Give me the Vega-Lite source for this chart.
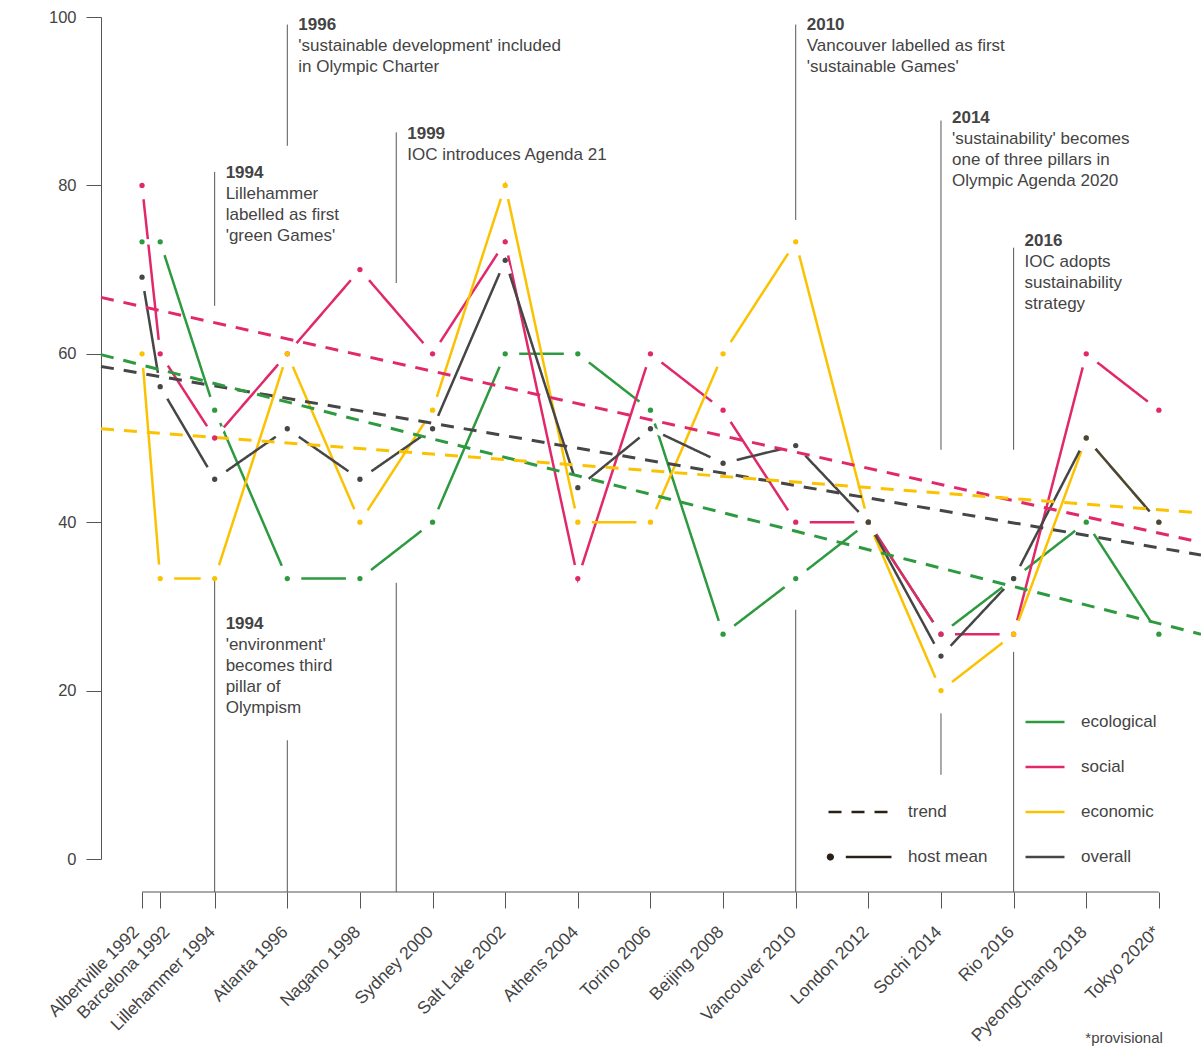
{
  "$schema": "https://vega.github.io/schema/vega-lite/v6.json",
  "width": 1100,
  "height": 842,
  "autosize": {"type": "none"},
  "padding": {"left": 101, "top": 17, "right": 0, "bottom": 189},
  "background": "white",
  "config": {
    "font": "Liberation Sans",
    "view": {"stroke": null},
    "axis": {"grid": false, "labelFont": "Liberation Sans", "titleFont": "Liberation Sans"},
    "legend": {"labelFont": "Liberation Sans"}
  },
  "datasets": {
    "scores": [
      {"host": "Albertville 1992", "x": 1992, "ecological": 73.3, "social": 80, "economic": 60, "overall": 69.1},
      {"host": "Barcelona 1992", "x": 1992.5, "ecological": 73.3, "social": 60, "economic": 33.3, "overall": 56.1},
      {"host": "Lillehammer 1994", "x": 1994, "ecological": 53.3, "social": 50, "economic": 33.3, "overall": 45.1},
      {"host": "Atlanta 1996", "x": 1996, "ecological": 33.3, "social": 60, "economic": 60, "overall": 51.1},
      {"host": "Nagano 1998", "x": 1998, "ecological": 33.3, "social": 70, "economic": 40, "overall": 45.1},
      {"host": "Sydney 2000", "x": 2000, "ecological": 40, "social": 60, "economic": 53.3, "overall": 51.1},
      {"host": "Salt Lake 2002", "x": 2002, "ecological": 60, "social": 73.3, "economic": 80, "overall": 71.1},
      {"host": "Athens 2004", "x": 2004, "ecological": 60, "social": 33.3, "economic": 40, "overall": 44.1},
      {"host": "Torino 2006", "x": 2006, "ecological": 53.3, "social": 60, "economic": 40, "overall": 51.1},
      {"host": "Beijing 2008", "x": 2008, "ecological": 26.7, "social": 53.3, "economic": 60, "overall": 47},
      {"host": "Vancouver 2010", "x": 2010, "ecological": 33.3, "social": 40, "economic": 73.3, "overall": 49.1},
      {"host": "London 2012", "x": 2012, "ecological": 40, "social": 40, "economic": 40, "overall": 40},
      {"host": "Sochi 2014", "x": 2014, "ecological": 26.7, "social": 26.7, "economic": 20, "overall": 24.1},
      {"host": "Rio 2016", "x": 2016, "ecological": 33.3, "social": 26.7, "economic": 26.7, "overall": 33.3},
      {"host": "PyeongChang 2018", "x": 2018, "ecological": 40, "social": 60, "economic": 50, "overall": 50},
      {"host": "Tokyo 2020*", "x": 2020, "ecological": 26.7, "social": 53.3, "economic": 40, "overall": 40}
    ],
    "trend": [
      {"series": "social", "x": 1990.87, "value": 66.7},
      {"series": "social", "x": 2021.16, "value": 37.6},
      {"series": "overall", "x": 1990.87, "value": 58.5},
      {"series": "overall", "x": 2021.16, "value": 36.1},
      {"series": "ecological", "x": 1990.87, "value": 59.9},
      {"series": "ecological", "x": 2021.16, "value": 26.7},
      {"series": "economic", "x": 1990.87, "value": 51.1},
      {"series": "economic", "x": 2021.16, "value": 41.1}
    ],
    "annoLines": [
      {"year": 1994, "from": 81.6, "to": 65.7},
      {"year": 1994, "from": 33.5, "to": -3.92},
      {"year": 1996, "from": 99.1, "to": 84.7},
      {"year": 1996, "from": 14.1, "to": -3.92},
      {"year": 1999, "from": 86.3, "to": 68.4},
      {"year": 1999, "from": 32.8, "to": -3.92},
      {"year": 2010, "from": 99.1, "to": 75.9},
      {"year": 2010, "from": 29.6, "to": -3.92},
      {"year": 2014, "from": 87.7, "to": 48.6},
      {"year": 2014, "from": 17.3, "to": 10.0},
      {"year": 2016, "from": 72.6, "to": 48.6},
      {"year": 2016, "from": 24.6, "to": -3.92}
    ],
    "annoText": [
      {"year": 1994, "y": 81.6, "title": "1994", "body": "Lillehammer\nlabelled as first\n'green Games'"},
      {"year": 1996, "y": 99.2, "title": "1996", "body": "'sustainable development' included\nin Olympic Charter"},
      {"year": 1999, "y": 86.2, "title": "1999", "body": "IOC introduces Agenda 21"},
      {"year": 2010, "y": 99.2, "title": "2010", "body": "Vancouver labelled as first\n'sustainable Games'"},
      {"year": 2014, "y": 88.1, "title": "2014", "body": "'sustainability' becomes\none of three pillars in\nOlympic Agenda 2020"},
      {"year": 2016, "y": 73.5, "title": "2016", "body": "IOC adopts\nsustainability\nstrategy"},
      {"year": 1994, "y": 28.0, "title": "1994", "body": "'environment'\nbecomes third\npillar of\nOlympism"}
    ]
  },
  "layer": [
    {
      "data": {"name": "annoLines"},
      "mark": {"type": "rule", "stroke": "#555555", "strokeWidth": 1},
      "encoding": {
        "x": {"field": "year", "type": "quantitative", "scale": {"domain": [1990.87, 2021.16], "nice": false, "zero": false}, "title": null},
        "y": {"field": "from", "type": "quantitative", "scale": {"domain": [0, 100], "nice": false}, "title": null},
        "y2": {"field": "to"}
      }
    },
    {
      "data": {"values": [{"a": 1992, "b": 2020, "y": -3.92}]},
      "mark": {"type": "rule", "stroke": "#555555", "strokeWidth": 1},
      "encoding": {
        "x": {"field": "a", "type": "quantitative", "scale": {"domain": [1990.87, 2021.16], "nice": false, "zero": false}, "title": null},
        "x2": {"field": "b"},
        "y": {"field": "y", "type": "quantitative", "scale": {"domain": [0, 100], "nice": false}, "title": null}
      }
    },
    {
      "data": {"name": "scores"},
      "transform": [{"fold": ["ecological", "social", "economic", "overall"], "as": ["series", "value"]}],
      "mark": {"type": "line", "strokeWidth": 2.5},
      "encoding": {
        "x": {
          "field": "x", "type": "quantitative",
          "scale": {"domain": [1990.87, 2021.16], "nice": false, "zero": false},
          "title": null,
          "axis": {
            "title": null,
            "values": [1992, 1992.5, 1994, 1996, 1998, 2000, 2002, 2004, 2006, 2008, 2010, 2012, 2014, 2016, 2018, 2020],
            "labelExpr": "['Albertville 1992','Barcelona 1992','Lillehammer 1994','Atlanta 1996','Nagano 1998','Sydney 2000','Salt Lake 2002','Athens 2004','Torino 2006','Beijing 2008','Vancouver 2010','London 2012','Sochi 2014','Rio 2016','PyeongChang 2018','Tokyo 2020*'][indexof([1992,1992.5,1994,1996,1998,2000,2002,2004,2006,2008,2010,2012,2014,2016,2018,2020], datum.value)]",
            "domain": false,
            "offset": 33,
            "tickSize": 16,
            "tickColor": "#555555",
            "labelAngle": -45,
            "labelAlign": "right",
            "labelBaseline": "middle",
            "labelPadding": 21,
            "labelOffset": {"condition": [{"test": "datum.value === 1992", "value": -6}, {"test": "datum.value === 1992.5", "value": 6.5}], "value": -2.5},
            "labelFontSize": 17.5,
            "labelColor": "#444444",
            "labelOverlap": false,
            "labelBound": false,
            "labelFlush": false
          }
        },
        "y": {
          "field": "value", "type": "quantitative",
          "scale": {"domain": [0, 100], "nice": false},
          "title": "sustainability score",
          "axis": {
            "title": "sustainability score",
            "values": [0, 20, 40, 60, 80, 100],
            "domainColor": "#555555",
            "tickColor": "#555555",
            "tickSize": 15,
            "labelFontSize": 16.5,
            "labelColor": "#444444",
            "labelPadding": 10,
            "titleFontSize": 23,
            "titleFontWeight": "normal",
            "titleColor": "#444444",
            "titlePadding": 14
          }
        },
        "color": {
          "field": "series", "type": "nominal",
          "scale": {"domain": ["ecological", "social", "economic", "overall"], "range": ["#2e9a40", "#e1286a", "#fbc202", "#464646"]},
          "legend": {
            "orient": "none", "legendX": 923, "legendY": 684, "title": null,
            "symbolType": "stroke", "symbolSize": 1521, "symbolStrokeWidth": 2.5, "symbolOpacity": 1,
            "labelFontSize": 17, "labelColor": "#444444", "labelOffset": 15, "rowPadding": 16, "padding": 0
          }
        },
        "strokeDash": {
          "datum": "host mean",
          "scale": {"domain": ["trend", "host mean"], "range": [[13, 10], [1, 0]]},
          "legend": {
            "orient": "none", "legendX": 726, "legendY": 762, "title": null,
            "symbolType": "stroke", "symbolSize": 3969, "symbolStrokeWidth": 2.5, "symbolStrokeColor": "#2b2016",
            "labelFontSize": 17, "labelColor": "#444444", "labelOffset": 15, "rowPadding": 4, "padding": 0,
            "encode": {
              "symbols": {
                "update": {
                  "shape": {"signal": "datum.value === 'host mean' ? 'M -0.94 -0.075 A 0.075 0.075 0 1 1 -0.94 0.075 A 0.075 0.075 0 1 1 -0.94 -0.075 Z M -0.45 0 L 1 0' : 'stroke'"},
                  "fill": {"signal": "datum.value === 'host mean' ? '#2b2016' : 'transparent'"},
                  "stroke": {"value": "#2b2016"},
                  "strokeWidth": {"value": 2.5},
                  "strokeOpacity": {"value": 1},
                  "opacity": {"value": 1},
                  "strokeDash": {"signal": "datum.value === 'trend' ? [12, 14] : [1, 0]"}
                }
              }
            }
          }
        }
      }
    },
    {
      "data": {"name": "scores"},
      "transform": [
        {"fold": ["ecological", "social", "economic", "overall"], "as": ["series", "value"]},
        {"window": [{"op": "lead", "field": "x", "as": "x_next"}, {"op": "lead", "field": "value", "as": "value_next"}], "groupby": ["series"], "sort": [{"field": "x", "order": "ascending"}]},
        {"filter": "datum.x_next != null"}
      ],
      "mark": {"type": "rule", "stroke": "white", "strokeWidth": 5, "strokeDash": [14, 100000], "strokeCap": "butt"},
      "encoding": {
        "x": {"field": "x", "type": "quantitative", "scale": {"domain": [1990.87, 2021.16], "nice": false, "zero": false}, "title": null},
        "y": {"field": "value", "type": "quantitative", "scale": {"domain": [0, 100], "nice": false}, "title": null},
        "x2": {"field": "x_next"},
        "y2": {"field": "value_next"}
      }
    },
    {
      "data": {"name": "scores"},
      "transform": [
        {"fold": ["ecological", "social", "economic", "overall"], "as": ["series", "value"]},
        {"window": [{"op": "lead", "field": "x", "as": "x_next"}, {"op": "lead", "field": "value", "as": "value_next"}], "groupby": ["series"], "sort": [{"field": "x", "order": "ascending"}]},
        {"filter": "datum.x_next != null"}
      ],
      "mark": {"type": "rule", "stroke": "white", "strokeWidth": 5, "strokeDash": [14, 100000], "strokeCap": "butt"},
      "encoding": {
        "x": {"field": "x_next", "type": "quantitative", "scale": {"domain": [1990.87, 2021.16], "nice": false, "zero": false}, "title": null},
        "y": {"field": "value_next", "type": "quantitative", "scale": {"domain": [0, 100], "nice": false}, "title": null},
        "x2": {"field": "x"},
        "y2": {"field": "value"}
      }
    },
    {
      "data": {"name": "trend"},
      "mark": {"type": "line", "strokeWidth": 3},
      "encoding": {
        "x": {"field": "x", "type": "quantitative", "scale": {"domain": [1990.87, 2021.16], "nice": false, "zero": false}, "title": null},
        "y": {"field": "value", "type": "quantitative", "scale": {"domain": [0, 100], "nice": false}, "title": null},
        "color": {"field": "series", "type": "nominal", "legend": null},
        "strokeDash": {"datum": "trend", "legend": null}
      }
    },
    {
      "data": {"name": "scores"},
      "transform": [{"fold": ["ecological", "social", "economic", "overall"], "as": ["series", "value"]}],
      "mark": {"type": "point", "filled": true, "size": 28, "opacity": 1, "strokeWidth": 0},
      "encoding": {
        "x": {"field": "x", "type": "quantitative", "scale": {"domain": [1990.87, 2021.16], "nice": false, "zero": false}, "title": null},
        "y": {"field": "value", "type": "quantitative", "scale": {"domain": [0, 100], "nice": false}, "title": null},
        "color": {"field": "series", "type": "nominal", "legend": null}
      }
    },
    {
      "data": {"name": "annoText"},
      "mark": {"type": "text", "align": "left", "baseline": "alphabetic", "dx": 11, "dy": 6, "fontSize": 17, "fontWeight": "bold", "fill": "#444444"},
      "encoding": {
        "x": {"field": "year", "type": "quantitative", "scale": {"domain": [1990.87, 2021.16], "nice": false, "zero": false}, "title": null},
        "y": {"field": "y", "type": "quantitative", "scale": {"domain": [0, 100], "nice": false}, "title": null},
        "text": {"field": "title"}
      }
    },
    {
      "data": {"name": "annoText"},
      "mark": {"type": "text", "align": "left", "baseline": "alphabetic", "dx": 11, "dy": 27, "fontSize": 17, "lineHeight": 21, "lineBreak": "\n", "fill": "#444444"},
      "encoding": {
        "x": {"field": "year", "type": "quantitative", "scale": {"domain": [1990.87, 2021.16], "nice": false, "zero": false}, "title": null},
        "y": {"field": "y", "type": "quantitative", "scale": {"domain": [0, 100], "nice": false}, "title": null},
        "text": {"field": "body"}
      }
    },
    {
      "data": {"values": [{"x": 2020, "y": -21.3, "note": "*provisional"}]},
      "mark": {"type": "text", "align": "right", "baseline": "middle", "dx": 4, "fontSize": 15, "fill": "#444444"},
      "encoding": {
        "x": {"field": "x", "type": "quantitative", "scale": {"domain": [1990.87, 2021.16], "nice": false, "zero": false}, "title": null},
        "y": {"field": "y", "type": "quantitative", "scale": {"domain": [0, 100], "nice": false}, "title": null},
        "text": {"field": "note"}
      }
    }
  ]
}
